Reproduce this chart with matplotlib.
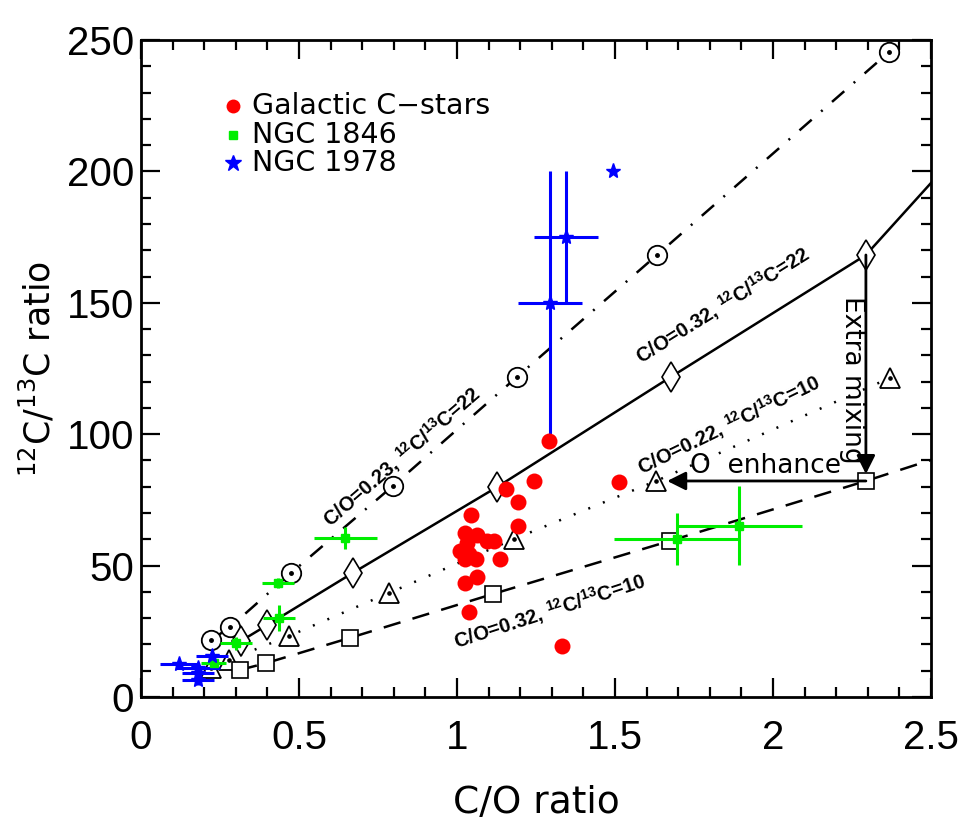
import matplotlib
matplotlib.use("Agg")
import matplotlib.pyplot as plt
import numpy as np

plt.rcParams['font.family'] = ['DejaVu Sans']
plt.rcParams['mathtext.default'] = 'regular'

# ---- model tracks ----
# C/O=0.23, 12C/13C=22 (dash-dot, circles)
circ_x = [0.222, 0.282, 0.475, 0.797, 1.19, 1.633, 2.367]
circ_y = [21.7, 26.6, 47.2, 80.3, 121.8, 168.2, 245.4]
# C/O=0.32, 12C/13C=22 (solid, diamonds)
diam_x = [0.316, 0.40, 0.67, 1.127, 1.677, 2.294]
diam_y = [21.3, 27.4, 47.2, 79.9, 121.8, 168.2]
solid_end = (2.5, 195.6)
# C/O=0.22, 12C/13C=10 (dotted, triangles)
tri_x = [0.222, 0.278, 0.468, 0.785, 1.18, 1.63, 2.37]
tri_y = [11.0, 14.1, 23.2, 39.6, 60.1, 82.2, 121.4]
# C/O=0.32, 12C/13C=10 (dashed, squares)
sq_x = [0.313, 0.396, 0.661, 1.114, 1.674, 2.294]
sq_y = [10.3, 12.9, 22.5, 39.2, 59.4, 82.2]
dashed_end = (2.5, 90.2)

# ---- observations ----
gal_x = [1.291, 1.513, 1.244, 1.155, 1.193, 1.044, 1.193, 1.025, 1.063, 1.095,
         1.117, 1.032, 1.009, 1.038, 1.025, 1.060, 1.136, 1.063, 1.025, 1.038, 1.332]
gal_y = [97.4, 81.8, 82.2, 79.1, 74.2, 69.3, 65.1, 62.4, 61.6, 59.4,
         59.4, 58.6, 55.6, 54.4, 52.5, 52.5, 52.5, 45.7, 43.4, 32.3, 19.4]

n1846_x = [0.646, 0.434, 0.437, 0.30, 0.23, 1.892, 1.696]
n1846_y = [60.5, 43.4, 30.1, 20.5, 13.0, 65.1, 60.1]
n1846_xerr = [0.10, 0.05, 0.05, 0.05, 0.04, 0.20, 0.20]
n1846_yerr = [4.0, 2.0, 5.0, 2.5, 2.0, 15.0, 10.0]

n1978_x = [0.12, 0.18, 0.18, 0.18, 0.225, 1.294, 1.345, 1.494]
n1978_y = [12.5, 11.0, 9.0, 6.5, 15.6, 150.0, 175.0, 200.0]
n1978_xerr = [0.06, 0.07, 0.05, 0.05, 0.05, 0.10, 0.10, 0.0]
n1978_yerr = [1.0, 2.0, 2.0, 2.0, 2.5, 50.0, 25.0, 0.0]

legend_labels = ['Galactic C\u2212stars', 'NGC 1846', 'NGC 1978']

fig = plt.figure(figsize=(9.65, 8.36), dpi=100)
ax = fig.add_axes([141/965, (836-697)/836, (931-141)/965, (697-40)/836])

lw = 1.8
# lines
ax.plot(circ_x, circ_y, color='black', lw=lw, dashes=[6.5, 5, 0.8, 5], zorder=2)
ax.plot(diam_x + [solid_end[0]], diam_y + [solid_end[1]], color='black', lw=lw, zorder=2)
ax.plot(tri_x, tri_y, color='black', lw=lw, dashes=[0.8, 5.5], zorder=2)
ax.plot(sq_x + [dashed_end[0]], sq_y + [dashed_end[1]], color='black', lw=lw, dashes=[7, 5], zorder=2)

# markers
ax.plot(circ_x, circ_y, 'o', ms=14, mfc='white', mec='black', mew=1.3, ls='none', zorder=3)
ax.plot(circ_x, circ_y, 'o', ms=2.5, color='black', ls='none', zorder=4)
ax.plot(diam_x, diam_y, 'd', ms=15, mfc='white', mec='black', mew=1.2, ls='none', zorder=3)
ax.plot(tri_x, tri_y, '^', ms=15, mfc='white', mec='black', mew=1.3, ls='none', zorder=3)
ax.plot(tri_x, tri_y, 'o', ms=2.3, color='black', ls='none', zorder=4)
ax.plot(sq_x, sq_y, 's', ms=12, mfc='white', mec='black', mew=1.2, ls='none', zorder=3)

# observations
ax.plot(gal_x, gal_y, 'o', ms=11.5, color='red', mec='none', ls='none', zorder=5)
ax.errorbar(n1846_x, n1846_y, xerr=n1846_xerr, yerr=n1846_yerr, fmt='s', ms=6,
            color='#00ee00', ecolor='#00ee00', elinewidth=2.2, capsize=0, zorder=4)
ax.errorbar(n1978_x, n1978_y, xerr=n1978_xerr, yerr=n1978_yerr, fmt='*', ms=11,
            color='blue', ecolor='blue', elinewidth=2.2, capsize=0, zorder=4)

# arrows
ax.annotate('', xy=(tri_x[5], tri_y[5]), xytext=(sq_x[5], sq_y[5]),
            arrowprops=dict(arrowstyle='-|>', lw=2, color='black', mutation_scale=28,
                            shrinkA=0, shrinkB=8), zorder=6)
ax.annotate('', xy=(sq_x[5], sq_y[5]), xytext=(diam_x[5], diam_y[5]),
            arrowprops=dict(arrowstyle='-|>', lw=2, color='black', mutation_scale=28,
                            shrinkA=0, shrinkB=5), zorder=6)
ax.text(1.975, 87.9, 'O  enhance', fontsize=19, ha='center', va='center')
ax.text(2.25, 120.6, 'Extra mixing', fontsize=19, ha='center', va='center', rotation=-90)

# curve labels
lab_kw = dict(fontsize=14.5, fontweight='bold', ha='center', va='center',
              rotation_mode='anchor', family=['Liberation Sans', 'DejaVu Sans'])
ax.text(0.826, 91.3, 'C/O=0.23, $^{12}$C/$^{13}$C=22', rotation=41, **lab_kw)
ax.text(1.839, 149.2, 'C/O=0.32, $^{12}$C/$^{13}$C=22', rotation=32, **lab_kw)
ax.text(1.86, 103.6, 'C/O=0.22, $^{12}$C/$^{13}$C=10', rotation=26, **lab_kw)
ax.text(1.294, 32.7, 'C/O=0.32, $^{12}$C/$^{13}$C=10', rotation=18, **lab_kw)

# legend (manual)
leg_y = [0.8995, 0.8555, 0.8128]
ax.plot([0.1165], [leg_y[0]], 'o', ms=10, color='red', mec='none', transform=ax.transAxes)
ax.plot([0.1165], [leg_y[1]], 's', ms=6, color='#00ee00', transform=ax.transAxes)
ax.plot([0.1165], [leg_y[2]], '*', ms=12, color='blue', transform=ax.transAxes)
for yy, lab in zip(leg_y, legend_labels):
    ax.text(0.1405, yy, lab, fontsize=20.5, ha='left', va='center', transform=ax.transAxes)

ax.set_xlim(0, 2.5)
ax.set_ylim(0, 250)
ax.set_xticks(np.arange(0, 2.51, 0.5))
ax.set_xticklabels(['0', '0.5', '1', '1.5', '2', '2.5'])
ax.set_yticks(np.arange(0, 251, 50))
ax.set_xticks(np.arange(0, 2.51, 0.1), minor=True)
ax.set_yticks(np.arange(0, 251, 10), minor=True)
ax.tick_params(which='both', direction='in', top=True, right=True, width=1.6)
ax.tick_params(which='major', length=14)
ax.tick_params(which='minor', length=7)
ax.tick_params(axis='x', which='major', labelsize=29, pad=16)
ax.tick_params(axis='y', which='major', labelsize=29, pad=5)
tick_font = ['Liberation Sans Narrow', 'Liberation Sans', 'DejaVu Sans']
for t in ax.get_xticklabels() + ax.get_yticklabels():
    t.set_family(tick_font)
for s in ax.spines.values():
    s.set_linewidth(2)

ax.set_xlabel('C/O ratio', fontsize=27, labelpad=20)
ax.set_ylabel('$^{12}$C/$^{13}$C ratio', fontsize=25)
ax.yaxis.set_label_coords(-0.106, 0.5)

fig.savefig('out.png', dpi=100)
